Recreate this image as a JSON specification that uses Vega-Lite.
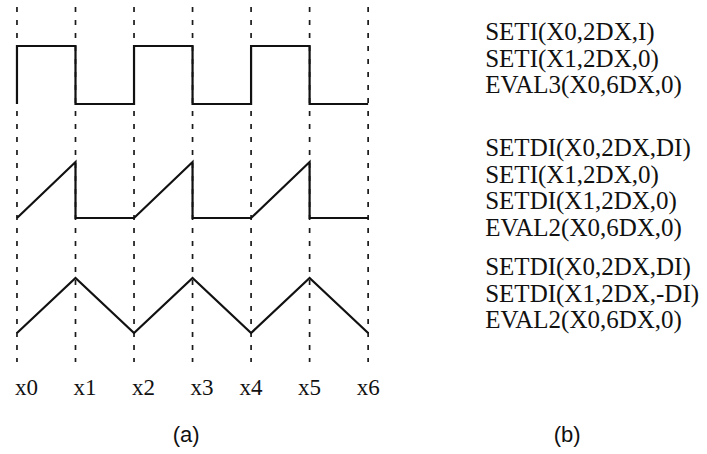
{
  "$schema": "https://vega.github.io/schema/vega-lite/v6.json",
  "width": 707,
  "height": 454,
  "padding": 0,
  "autosize": {"type": "fit", "contains": "padding"},
  "background": "white",
  "config": {"view": {"stroke": null}},
  "layer": [
    {
      "data": {"values": [
        {"i": 0, "top": 44.7, "bottom": 9.2},
        {"i": 1, "top": 44.7, "bottom": 9.2},
        {"i": 2, "top": 44.7, "bottom": 9.2},
        {"i": 3, "top": 44.7, "bottom": 9.2},
        {"i": 4, "top": 44.7, "bottom": 9.2},
        {"i": 5, "top": 44.7, "bottom": 9.2},
        {"i": 6, "top": 44.7, "bottom": 9.2}
      ]},
      "mark": {"type": "rule", "strokeDash": [5, 8], "strokeWidth": 1.7, "color": "#1a1a1a"},
      "encoding": {
        "x": {"field": "i", "type": "quantitative", "scale": {"domain": [-0.29, 11.79], "nice": false, "zero": false}, "axis": null},
        "y": {"field": "top", "type": "quantitative", "scale": {"domain": [0, 45.4], "nice": false, "zero": false}, "axis": null},
        "y2": {"field": "bottom"}
      }
    },
    {
      "data": {"values": [
        {"wave": "square", "k": 0, "t": 0, "v": 35.0},
        {"wave": "square", "k": 1, "t": 0, "v": 40.8},
        {"wave": "square", "k": 2, "t": 1, "v": 40.8},
        {"wave": "square", "k": 3, "t": 1, "v": 35.0},
        {"wave": "square", "k": 4, "t": 2, "v": 35.0},
        {"wave": "square", "k": 5, "t": 2, "v": 40.8},
        {"wave": "square", "k": 6, "t": 3, "v": 40.8},
        {"wave": "square", "k": 7, "t": 3, "v": 35.0},
        {"wave": "square", "k": 8, "t": 4, "v": 35.0},
        {"wave": "square", "k": 9, "t": 4, "v": 40.8},
        {"wave": "square", "k": 10, "t": 5, "v": 40.8},
        {"wave": "square", "k": 11, "t": 5, "v": 35.0},
        {"wave": "square", "k": 12, "t": 6, "v": 35.0},
        {"wave": "saw", "k": 0, "t": 0, "v": 23.6},
        {"wave": "saw", "k": 1, "t": 1, "v": 29.2},
        {"wave": "saw", "k": 2, "t": 1, "v": 23.6},
        {"wave": "saw", "k": 3, "t": 2, "v": 23.6},
        {"wave": "saw", "k": 4, "t": 3, "v": 29.2},
        {"wave": "saw", "k": 5, "t": 3, "v": 23.6},
        {"wave": "saw", "k": 6, "t": 4, "v": 23.6},
        {"wave": "saw", "k": 7, "t": 5, "v": 29.2},
        {"wave": "saw", "k": 8, "t": 5, "v": 23.6},
        {"wave": "saw", "k": 9, "t": 6, "v": 23.6},
        {"wave": "tri", "k": 0, "t": 0, "v": 12.1},
        {"wave": "tri", "k": 1, "t": 1, "v": 17.6},
        {"wave": "tri", "k": 2, "t": 2, "v": 12.1},
        {"wave": "tri", "k": 3, "t": 3, "v": 17.6},
        {"wave": "tri", "k": 4, "t": 4, "v": 12.1},
        {"wave": "tri", "k": 5, "t": 5, "v": 17.6},
        {"wave": "tri", "k": 6, "t": 6, "v": 12.1}
      ]},
      "mark": {"type": "line", "color": "#111", "strokeWidth": 2.2, "strokeJoin": "miter"},
      "encoding": {
        "x": {"field": "t", "type": "quantitative"},
        "y": {"field": "v", "type": "quantitative"},
        "detail": {"field": "wave"},
        "order": {"field": "k", "type": "quantitative"}
      }
    },
    {
      "data": {"values": [
        {"i": 0, "lbl": "x0", "ly": 5.9},
        {"i": 1, "lbl": "x1", "ly": 5.9},
        {"i": 2, "lbl": "x2", "ly": 5.9},
        {"i": 3, "lbl": "x3", "ly": 5.9},
        {"i": 4, "lbl": "x4", "ly": 5.9},
        {"i": 5, "lbl": "x5", "ly": 5.9},
        {"i": 6, "lbl": "x6", "ly": 5.9}
      ]},
      "transform": [{"filter": "datum.i <= 3"}],
      "mark": {"type": "text", "align": "left", "baseline": "alphabetic", "dx": -2, "font": "Liberation Serif", "fontSize": 23, "color": "#111"},
      "encoding": {
        "x": {"field": "i", "type": "quantitative"},
        "y": {"field": "ly", "type": "quantitative"},
        "text": {"field": "lbl"}
      }
    },
    {
      "data": {"values": [
        {"i": 0, "lbl": "x0", "ly": 5.9},
        {"i": 1, "lbl": "x1", "ly": 5.9},
        {"i": 2, "lbl": "x2", "ly": 5.9},
        {"i": 3, "lbl": "x3", "ly": 5.9},
        {"i": 4, "lbl": "x4", "ly": 5.9},
        {"i": 5, "lbl": "x5", "ly": 5.9},
        {"i": 6, "lbl": "x6", "ly": 5.9}
      ]},
      "transform": [{"filter": "datum.i > 3"}],
      "mark": {"type": "text", "align": "center", "baseline": "alphabetic", "font": "Liberation Serif", "fontSize": 23, "color": "#111"},
      "encoding": {
        "x": {"field": "i", "type": "quantitative"},
        "y": {"field": "ly", "type": "quantitative"},
        "text": {"field": "lbl"}
      }
    },
    {
      "data": {"values": [
        {"cap": "(a)", "cx": 2.89, "cy": 1.9},
        {"cap": "(b)", "cx": 9.4, "cy": 1.9}
      ]},
      "mark": {"type": "text", "align": "center", "baseline": "middle", "font": "Liberation Sans", "fontSize": 22, "color": "#111"},
      "encoding": {
        "x": {"field": "cx", "type": "quantitative"},
        "y": {"field": "cy", "type": "quantitative"},
        "text": {"field": "cap"}
      }
    },
    {
      "data": {"values": [
        {"code": "SETI(X0,2DX,I)", "tx": 8.0, "ty": 41.4},
        {"code": "SETI(X1,2DX,0)", "tx": 8.0, "ty": 38.75},
        {"code": "EVAL3(X0,6DX,0)", "tx": 8.0, "ty": 36.1},
        {"code": "SETDI(X0,2DX,DI)", "tx": 8.0, "ty": 29.8},
        {"code": "SETI(X1,2DX,0)", "tx": 8.0, "ty": 27.15},
        {"code": "SETDI(X1,2DX,0)", "tx": 8.0, "ty": 24.5},
        {"code": "EVAL2(X0,6DX,0)", "tx": 8.0, "ty": 21.85},
        {"code": "SETDI(X0,2DX,DI)", "tx": 8.0, "ty": 17.9},
        {"code": "SETDI(X1,2DX,-DI)", "tx": 8.0, "ty": 15.25},
        {"code": "EVAL2(X0,6DX,0)", "tx": 8.0, "ty": 12.6}
      ]},
      "mark": {"type": "text", "align": "left", "baseline": "alphabetic", "font": "Liberation Serif", "fontSize": 25, "color": "#111"},
      "encoding": {
        "x": {"field": "tx", "type": "quantitative"},
        "y": {"field": "ty", "type": "quantitative"},
        "text": {"field": "code"}
      }
    }
  ]
}
